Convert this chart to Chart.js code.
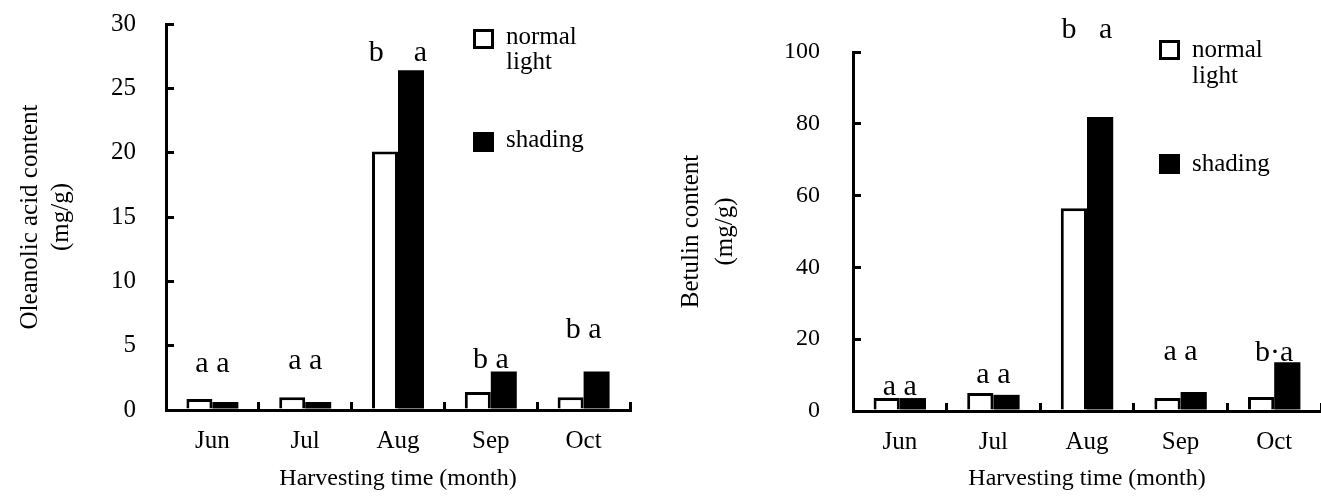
<!DOCTYPE html>
<html>
<head>
<meta charset="utf-8">
<script src="https://cdn.jsdelivr.net/npm/chart.js@4.4.1/dist/chart.umd.min.js"></script>
<style>
  html, body { margin: 0; padding: 0; background: #fff; }
  #wrap { position: relative; width: 1321px; height: 502px; overflow: hidden; }
  canvas { position: absolute; top: 0; }
  #oleanolic { left: 0; }
  #betulin { left: 660px; }
</style>
</head>
<body>
<div id="wrap">
  <canvas id="oleanolic" width="660" height="502"></canvas>
  <canvas id="betulin" width="661" height="502"></canvas>
</div>
<script>
const months = ['Jun', 'Jul', 'Aug', 'Sep', 'Oct'];
const seriesNames = [['normal', 'light'], ['shading']];

// left panel: oleanolic acid (mg/g)
const oleanolicNormal = [0.85, 1.0, 20.1, 1.4, 1.0];
const oleanolicShading = [0.62, 0.62, 26.4, 3.0, 3.0];
const oleanolicTicks = [0, 5, 10, 15, 20, 25, 30];
const oleanolicLetters = ['a a', 'a a', 'b    a', 'b a', 'b a'];
const oleanolicLetterLevels = [2.95, 3.2, 27.1, 3.26, 5.6];

// right panel: betulin (mg/g)
const betulinNormal = [3.6, 5.0, 56.5, 3.6, 3.9];
const betulinShading = [3.6, 4.5, 81.9, 5.3, 13.6];
const betulinTicks = [0, 20, 40, 60, 80, 100];
const betulinLetters = ['a a', 'a a', 'b   a', 'a a', 'b\u00b7a'];
const betulinLetterLevels = [4.5, 7.8, 103.9, 14.2, 13.9];

const serif = '"Liberation Serif", "Times New Roman", serif';

// open / filled boxes with names, drawn in the upper right
const boxLegend = {
    id: 'boxLegend',
    afterDraw(chart, args, opts) {
        const ctx = chart.ctx;
        ctx.save();
        ctx.font = '25px ' + serif;
        ctx.textAlign = 'left';
        ctx.textBaseline = 'alphabetic';
        chart.data.datasets.forEach((ds, i) => {
            const by = opts.y + i * opts.gap;
            ctx.fillStyle = ds.backgroundColor;
            ctx.fillRect(opts.x, by, 21, 20);
            ctx.lineWidth = 3;
            ctx.strokeStyle = '#000';
            ctx.strokeRect(opts.x + 1.5, by + 1.5, 18, 17);
            ctx.fillStyle = '#000';
            ds.lines.forEach((t, j) => {
                ctx.fillText(t, opts.textX, by + opts.textDy + j * opts.lineGap);
            });
        });
        ctx.restore();
    }
};

// significance letters over each month
const letterMarks = {
    id: 'letterMarks',
    afterDatasetsDraw(chart, args, opts) {
        const ctx = chart.ctx;
        const x = chart.scales.x, y = chart.scales.y;
        ctx.save();
        ctx.font = '30px ' + serif;
        ctx.fillStyle = '#000';
        ctx.textAlign = 'center';
        ctx.textBaseline = 'alphabetic';
        opts.letters.forEach((t, i) => {
            ctx.fillText(t, x.getPixelForValue(i), y.getPixelForValue(opts.levels[i]));
        });
        ctx.restore();
    }
};

function makeChart(id, p) {
    const ctx = document.getElementById(id).getContext('2d');
    return new Chart(ctx, {
        type: 'bar',
        data: {
            labels: months,
            datasets: [
                {
                    label: seriesNames[0].join(' '),
                    lines: seriesNames[0],
                    data: p.normal,
                    backgroundColor: '#fff',
                    borderColor: '#000',
                    borderWidth: 3,
                    categoryPercentage: 0.56,
                    barPercentage: 1.0
                },
                {
                    label: seriesNames[1].join(' '),
                    lines: seriesNames[1],
                    data: p.shading,
                    backgroundColor: '#000',
                    borderColor: '#000',
                    borderWidth: 0,
                    categoryPercentage: 0.56,
                    barPercentage: 1.0
                }
            ]
        },
        options: {
            responsive: false,
            animation: false,
            layout: { padding: p.padding },
            plugins: {
                legend: { display: false },
                tooltip: { enabled: false },
                boxLegend: p.legend,
                letterMarks: { letters: p.letters, levels: p.levels }
            },
            scales: {
                x: {
                    grid: { offset: true, drawOnChartArea: false, tickLength: -8, color: '#000', lineWidth: 3 },
                    border: { display: true, color: '#000', width: 3 },
                    ticks: { color: '#000', font: { family: serif, size: 25 }, padding: 24 },
                    title: {
                        display: true,
                        text: 'Harvesting time (month)',
                        color: '#000',
                        font: { family: serif, size: 24 },
                        padding: { top: 0, bottom: 9 }
                    },
                    afterFit: s => {
                        s.height = p.xHeight;
                        s.paddingLeft = 0;
                        s.paddingRight = 0;
                    }
                },
                y: {
                    min: p.ticks[0],
                    max: p.ticks[p.ticks.length - 1],
                    afterBuildTicks: s => { s.ticks = p.ticks.map(v => ({ value: v })); },
                    grid: { drawOnChartArea: false, tickLength: -8, color: '#000', lineWidth: 3 },
                    border: { display: true, color: '#000', width: 3 },
                    ticks: { color: '#000', font: { family: serif, size: p.tickSize }, padding: p.tickPad },
                    title: {
                        display: true,
                        text: p.yTitle,
                        color: '#000',
                        font: { family: serif, size: 25, lineHeight: p.titleLine },
                        padding: { top: p.titlePad, bottom: 0 }
                    },
                    afterFit: s => {
                        // big tick padding is only there to push labels off the inward ticks
                        s.width = p.yWidth;
                        s.paddingTop = 0;
                        s.paddingBottom = 0;
                    }
                }
            }
        },
        plugins: [boxLegend, letterMarks]
    });
}

makeChart('oleanolic', {
    normal: oleanolicNormal,
    shading: oleanolicShading,
    ticks: oleanolicTicks,
    letters: oleanolicLetters,
    levels: oleanolicLetterLevels,
    yTitle: ['Oleanolic acid content', '(mg/g)'],
    padding: { left: 0, top: 24, right: 30, bottom: 0 },
    xHeight: 92,
    yWidth: 166,
    tickSize: 25,
    tickPad: 38,
    titleLine: '31px',
    titlePad: 15,
    legend: { x: 473, y: 29, gap: 103, textX: 506, textDy: 15, lineGap: 25 }
});

makeChart('betulin', {
    normal: betulinNormal,
    shading: betulinShading,
    ticks: betulinTicks,
    letters: betulinLetters,
    levels: betulinLetterLevels,
    yTitle: ['Betulin content', '(mg/g)'],
    padding: { left: 0, top: 52, right: 0, bottom: 0 },
    xHeight: 91,
    yWidth: 193,
    tickSize: 24,
    tickPad: 41,
    titleLine: '34px',
    titlePad: 14,
    legend: { x: 499, y: 40, gap: 114, textX: 532, textDy: 17, lineGap: 26 }
});
</script>
</body>
</html>
